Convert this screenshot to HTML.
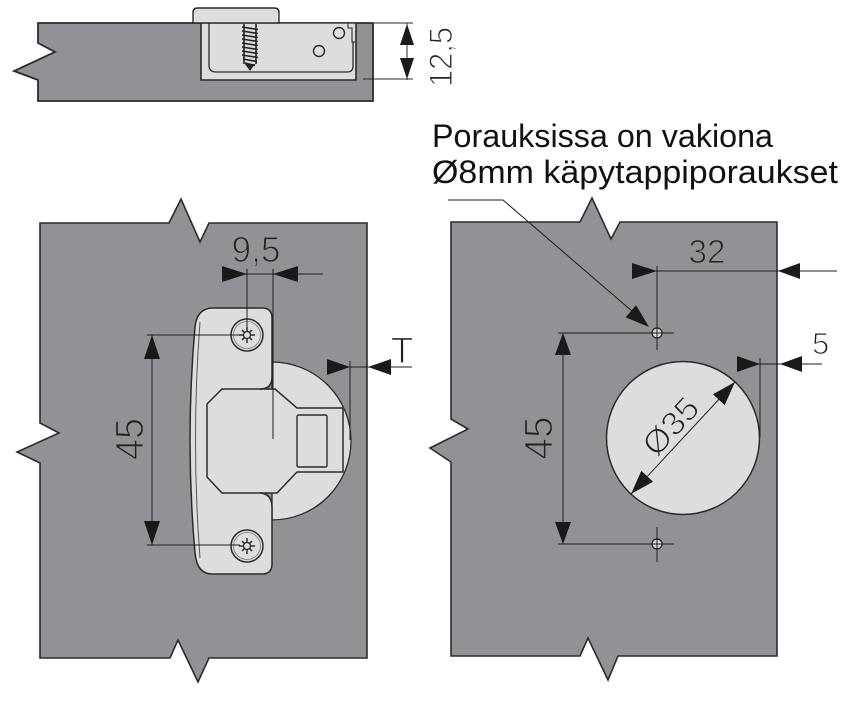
<!DOCTYPE html>
<html>
<head>
<meta charset="utf-8">
<style>
  html,body{margin:0;padding:0;background:#fff;}
  svg{display:block;}
  text{font-family:"Liberation Sans","DejaVu Sans",sans-serif;}
</style>
</head>
<body>
<svg width="853" height="717" viewBox="0 0 853 717" xmlns="http://www.w3.org/2000/svg">
  <rect width="853" height="717" fill="#fff"/>

  <!-- ============ TOP SECTION ============ -->
  <path d="M38,23 L373,23 L373,101 L38,101 L38,80 L14,71 L55,52 L38,43 Z" fill="#909295" stroke="#2b2b2b" stroke-width="1.8"/>
  <path d="M201,23 L201,80 L356,80 L356,23 Z" fill="#dcdddf" stroke="none"/>
  <path d="M201,23 L201,80 L356,80 L356,23" fill="none" stroke="#2b2b2b" stroke-width="1.6"/>
  <line x1="201" y1="23" x2="356" y2="23" stroke="#2b2b2b" stroke-width="1.3"/>
  <path d="M209,23 L209,65 Q209,72 216,72 L347,72 Q353,72 353,66 L353,42" fill="none" stroke="#2b2b2b" stroke-width="1.3"/>
  <path d="M348,23 L348,28 L352,28 L352,42 L356,42" fill="none" stroke="#2b2b2b" stroke-width="1.1"/>
  <path d="M193,23 L193,12 Q193,8 198,8 L274,8 Q279,8 279,12 L279,23 Z" fill="#dcdddf" stroke="#2b2b2b" stroke-width="1.4"/>
  <g stroke="#222" stroke-width="1.6">
    <line x1="244" y1="24" x2="244" y2="64"/>
    <line x1="256" y1="24" x2="256" y2="64"/>
    <line x1="242" y1="27" x2="258" y2="29.5"/>
    <line x1="242" y1="31" x2="258" y2="33.5"/>
    <line x1="242" y1="35" x2="258" y2="37.5"/>
    <line x1="242" y1="39" x2="258" y2="41.5"/>
    <line x1="242" y1="43" x2="258" y2="45.5"/>
    <line x1="242" y1="47" x2="258" y2="49.5"/>
    <line x1="242" y1="51" x2="258" y2="53.5"/>
    <line x1="242" y1="55" x2="258" y2="57.5"/>
    <line x1="243" y1="59" x2="257" y2="61.5"/>
    <line x1="245" y1="63" x2="255" y2="65.5"/>
  </g>
  <path d="M245,64 L255,64 L250,71 Z" fill="#222"/>
  <circle cx="339" cy="33" r="5.5" fill="#dcdddf" stroke="#2b2b2b" stroke-width="1.4"/>
  <circle cx="319" cy="51" r="5.5" fill="#dcdddf" stroke="#2b2b2b" stroke-width="1.4"/>
  <g stroke="#2b2b2b" stroke-width="1">
    <line x1="374" y1="23" x2="413" y2="23"/>
    <line x1="363" y1="79" x2="413" y2="79"/>
    <line x1="407" y1="23" x2="407" y2="80"/>
  </g>
  <polygon points="407,24 400,45 414,45" fill="#1a1a1a"/>
  <polygon points="407,79 400,58 414,58" fill="#1a1a1a"/>
  <text transform="translate(452,57) rotate(-90)" text-anchor="middle" font-size="32" fill="#222" stroke="#fff" stroke-width="1.1" textLength="60" lengthAdjust="spacingAndGlyphs">12,5</text>

  <!-- ============ TOP-RIGHT TEXT ============ -->
  <text x="432" y="147" font-size="32" fill="#111" textLength="341" lengthAdjust="spacingAndGlyphs">Porauksissa on vakiona</text>
  <text x="432" y="183" font-size="32" fill="#111" textLength="406" lengthAdjust="spacingAndGlyphs">Ø8mm käpytappiporaukset</text>

  <!-- ============ LEFT PANEL ============ -->
  <path d="M40,223 L169,223 L181,199 L200,242 L209,223 L367,223 L367,658 L209,658 L198,682 L178,640 L170,658 L40,658 L40,463 L17,452 L59,433 L40,423 Z" fill="#909295" stroke="#2b2b2b" stroke-width="1.6"/>

  <path d="M272,362 A79,79 0 0 1 272,520 Z" fill="#dcdddf" stroke="#2b2b2b" stroke-width="1.3"/>
  <path d="M272,377 L272,318 Q272,308 262,308 L213,308 Q197,308 195,327 Q185,440 195,553 Q197,574 212,574 L262,574 Q272,574 272,564 L272,507 Q272,494 260,493 L277,493 L297,472 L343,472 L343,408 L297,408 L275,389 L260,389 Q272,389 272,377 Z" fill="#dcdddf" stroke="#2b2b2b" stroke-width="1.5"/>
  <path d="M200,322 Q191,440 200,558" fill="none" stroke="#555" stroke-width="1"/>
  <path d="M262,389 L222,389 L207,404 L207,477 L222,493 L262,493" fill="none" stroke="#2b2b2b" stroke-width="1.5"/>
  <rect x="297" y="415" width="30" height="52" rx="1.5" fill="#dcdddf" stroke="#2b2b2b" stroke-width="1.4"/>

  <g>
    <circle cx="247" cy="335" r="16" fill="#dcdddf" stroke="#2b2b2b" stroke-width="1.5"/>
    <circle cx="247" cy="335" r="13.5" fill="none" stroke="#777" stroke-width="0.8"/>
    <g stroke="#222" stroke-width="1.4">
      <line x1="239" y1="335" x2="255" y2="335"/>
      <line x1="247" y1="327" x2="247" y2="343"/>
      <line x1="242" y1="330" x2="252" y2="340"/>
      <line x1="252" y1="330" x2="242" y2="340"/>
    </g>
    <circle cx="247" cy="335" r="3.5" fill="#dcdddf" stroke="#222" stroke-width="1.2"/>
  </g>
  <g>
    <circle cx="247" cy="546" r="16" fill="#dcdddf" stroke="#2b2b2b" stroke-width="1.5"/>
    <circle cx="247" cy="546" r="13.5" fill="none" stroke="#777" stroke-width="0.8"/>
    <g stroke="#222" stroke-width="1.4">
      <line x1="239" y1="546" x2="255" y2="546"/>
      <line x1="247" y1="538" x2="247" y2="554"/>
      <line x1="242" y1="541" x2="252" y2="551"/>
      <line x1="252" y1="541" x2="242" y2="551"/>
    </g>
    <circle cx="247" cy="546" r="3.5" fill="#dcdddf" stroke="#222" stroke-width="1.2"/>
  </g>

  <g stroke="#1e1e1e" stroke-width="1">
    <line x1="222" y1="274" x2="323" y2="274"/>
    <line x1="247" y1="269" x2="247" y2="330"/>
    <line x1="273" y1="269" x2="273" y2="439"/>
    <line x1="152" y1="335" x2="152" y2="545"/>
    <line x1="147" y1="335" x2="240" y2="335"/>
    <line x1="147" y1="545" x2="240" y2="545"/>
    <line x1="327" y1="367" x2="412" y2="367"/>
    <line x1="350" y1="361" x2="350" y2="440"/>
  </g>
  <g fill="#1a1a1a">
    <polygon points="247,274 222,266 222,282"/>
    <polygon points="273,274 298,266 298,282"/>
    <polygon points="152,335 144,359 160,359"/>
    <polygon points="152,545 144,521 160,521"/>
    <polygon points="350,367 327,359 327,375"/>
    <polygon points="368,367 391,359 391,375"/>
  </g>
  <text x="256" y="262" text-anchor="middle" font-size="36" fill="#222" stroke="#909295" stroke-width="1.2" textLength="49" lengthAdjust="spacingAndGlyphs">9,5</text>
  <text transform="translate(143,439) rotate(-90)" text-anchor="middle" font-size="40" fill="#222" stroke="#909295" stroke-width="1.3" textLength="42" lengthAdjust="spacingAndGlyphs">45</text>
  <text x="402" y="363" text-anchor="middle" font-size="37" fill="#222" stroke="#fff" stroke-width="1.2">T</text>

  <!-- ============ RIGHT PANEL ============ -->
  <path d="M451,222 L580,222 L592,198 L611,239 L620,222 L777,222 L777,656 L618,656 L608,680 L588,638 L580,656 L451,656 L451,462 L430,448 L468,429 L451,419 Z" fill="#909295" stroke="#2b2b2b" stroke-width="1.6"/>

  <circle cx="683" cy="438" r="76.5" fill="#dcdddf" stroke="#2b2b2b" stroke-width="1.5"/>

  <g stroke="#1e1e1e" stroke-width="1">
    <line x1="632" y1="271" x2="837" y2="271"/>
    <line x1="657" y1="266" x2="657" y2="350"/>
    <line x1="563" y1="333" x2="563" y2="544"/>
    <line x1="558" y1="333" x2="674" y2="333"/>
    <line x1="558" y1="544" x2="674" y2="544"/>
    <line x1="657" y1="527" x2="657" y2="562"/>
    <line x1="737" y1="364" x2="822" y2="364"/>
    <line x1="760" y1="358" x2="760" y2="437"/>
    <line x1="631" y1="494" x2="735" y2="382"/>
    <polyline points="448,200 503,200 640,318" fill="none"/>
  </g>
  <circle cx="657" cy="333" r="5" fill="#dcdddf" stroke="#1e1e1e" stroke-width="1.2"/>
  <line x1="651" y1="333" x2="663" y2="333" stroke="#1e1e1e" stroke-width="1"/>
  <line x1="657" y1="327" x2="657" y2="339" stroke="#1e1e1e" stroke-width="1"/>
  <circle cx="657" cy="544" r="5" fill="#dcdddf" stroke="#1e1e1e" stroke-width="1.2"/>
  <line x1="651" y1="544" x2="663" y2="544" stroke="#1e1e1e" stroke-width="1"/>
  <line x1="657" y1="538" x2="657" y2="550" stroke="#1e1e1e" stroke-width="1"/>

  <g fill="#1a1a1a">
    <polygon points="657,271 632,263 632,279"/>
    <polygon points="778,271 800,263 800,279"/>
    <polygon points="563,333 555,355 571,355"/>
    <polygon points="563,544 555,522 571,522"/>
    <polygon points="760,364 737,356 737,372"/>
    <polygon points="780,364 802,356 802,372"/>
    <polygon points="735,382 724.7,405.1 712.9,394.3"/>
    <polygon points="631,494 653.1,481.7 641.3,470.9"/>
    <polygon points="649,327 625.6,317.3 636.1,305.2"/>
  </g>

  <text x="707" y="263" text-anchor="middle" font-size="33" fill="#222" stroke="#909295" stroke-width="1.1" textLength="37" lengthAdjust="spacingAndGlyphs">32</text>
  <text x="812" y="354" font-size="31" fill="#222" stroke="#fff" stroke-width="1.1">5</text>
  <text transform="translate(552,438) rotate(-90)" text-anchor="middle" font-size="40" fill="#222" stroke="#909295" stroke-width="1.3" textLength="43" lengthAdjust="spacingAndGlyphs">45</text>
  <text transform="translate(679,434) rotate(-47.4)" text-anchor="middle" font-size="33" fill="#222" stroke="#dcdddf" stroke-width="1.1" textLength="66" lengthAdjust="spacingAndGlyphs">Ø35</text>
</svg>
</body>
</html>
